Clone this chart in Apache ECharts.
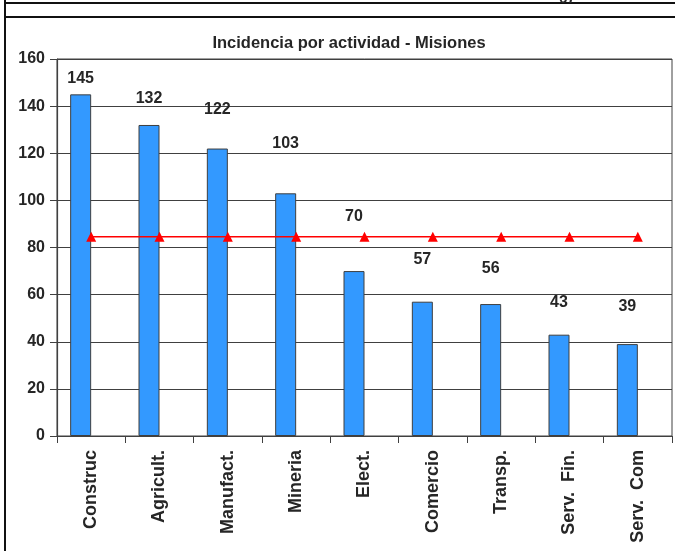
<!DOCTYPE html>
<html>
<head>
<meta charset="utf-8">
<script src="https://cdn.jsdelivr.net/npm/echarts@6/dist/echarts.min.js"></script>
<style>
  html, body { margin: 0; padding: 0; background: #fff; }
  #chart { width: 675px; height: 551px; }
</style>
</head>
<body>
<div id="chart"></div>
<script>
// datos
const categorias = ["Construc", "Agricult.", "Manufact.", "Mineria", "Elect.", "Comercio", "Transp.", "Serv.  Fin.", "Serv.  Com"];
const casos = [145, 132, 122, 103, 70, 57, 56, 43, 39];
const promedio = [84.6, 84.6, 84.6, 84.6, 84.6, 84.6, 84.6, 84.6, 84.6];
const yTicks = [0, 20, 40, 60, 80, 100, 120, 140, 160];

// altura de cada etiqueta sobre su barra (px), como en el original
const subida = [16, 26, 39, 50, 54, 42, 35, 32, 38];

const font = "'Liberation Sans', Arial, sans-serif";
const textColor = "#262626";

const chart = echarts.init(document.getElementById("chart"));

const option = {
  animation: false,
  title: {
    text: "Incidencia por actividad - Misiones",
    left: 344,
    textAlign: "center",
    top: 30,
    textStyle: { fontFamily: font, fontWeight: "bold", fontSize: 16.5, color: textColor },
  },
  graphic: [
    { type: "line", shape: { x1: 5, y1: 3, x2: 675, y2: 3 }, style: { stroke: "#111", lineWidth: 2 } },
    { type: "line", shape: { x1: 5, y1: 17, x2: 675, y2: 17 }, style: { stroke: "#111", lineWidth: 2 } },
    { type: "line", shape: { x1: 5, y1: 0, x2: 5, y2: 551 }, style: { stroke: "#111", lineWidth: 2 } },
    { type: "text", left: 559, top: -9, style: { text: "67", font: "bold 15px " + font, fill: textColor } },
  ],
  grid: {
    left: 57,
    right: 3,
    top: 59,
    bottom: 115,
    show: true,
    borderColor: "#404040",
    borderWidth: 1,
  },
  xAxis: {
    type: "category",
    data: categorias,
    axisLine: { lineStyle: { color: "#404040", width: 1.2 } },
    axisTick: { show: true, length: 7, lineStyle: { color: "#404040" } },
    axisLabel: {
      rotate: 90,
      margin: 14,
      interval: 0,
      fontFamily: font,
      fontWeight: "bold",
      fontSize: 18,
      color: textColor,
    },
  },
  yAxis: {
    type: "value",
    min: yTicks[0],
    max: yTicks[yTicks.length - 1],
    interval: 20,
    axisLine: { show: true, lineStyle: { color: "#404040", width: 1.2 } },
    axisTick: { show: true, length: 7, lineStyle: { color: "#404040" } },
    splitLine: { lineStyle: { color: "#404040", width: 1.2 } },
    axisLabel: {
      margin: 12,
      fontFamily: font,
      fontWeight: "bold",
      fontSize: 16,
      color: textColor,
    },
  },
  series: [
    {
      name: "Casos",
      type: "bar",
      barWidth: 21,
      barGap: "0%",
      data: casos.map((v, i) => ({
        value: v,
        label: { offset: [0, -(subida[i] - 8)] },
      })),
      itemStyle: { color: "#3399ff", borderColor: "#3f3f3f", borderWidth: 1 },
      label: {
        show: true,
        position: "top",
        distance: 0,
        fontFamily: font,
        fontWeight: "bold",
        fontSize: 16,
        color: textColor,
      },
    },
    {
      // serie vacia, deja las barras corridas a la izquierda
      name: "vacio",
      type: "bar",
      barWidth: 21,
      data: casos.map(() => null),
    },
    {
      name: "Promedio",
      type: "line",
      data: promedio,
      symbol: "triangle",
      symbolSize: 10,
      lineStyle: { color: "#ff0000", width: 1.5 },
      itemStyle: { color: "#ff0000" },
      z: 5,
    },
  ],
};

chart.setOption(option);
</script>
</body>
</html>
